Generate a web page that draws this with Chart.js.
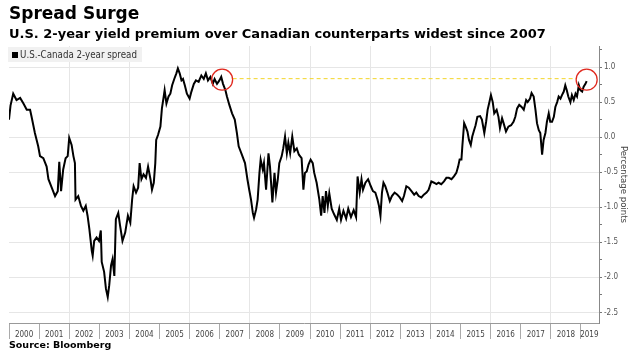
<!DOCTYPE html>
<html>
<head>
<meta charset="utf-8">
<script src="https://cdn.jsdelivr.net/npm/chart.js@4.4.1/dist/chart.umd.min.js"></script>
<style>
  html, body { margin: 0; padding: 0; background: #fff; }
  #wrap { position: relative; width: 633px; height: 359px; overflow: hidden; }
  #mainChart { position: absolute; left: 0; top: 0; }
  .head { position: absolute; left: 9px; font-family: "DejaVu Sans", sans-serif; font-weight: bold; color: #000; white-space: nowrap; }
  #title { top: 3px; font-size: 17px; }
  #subtitle { top: 26px; font-size: 13px; }
  #source { top: 339px; font-size: 9.5px; }
  #legend { position: absolute; left: 8px; top: 47px; height: 15px; line-height: 15px; padding: 0 5px 0 4px;
            background: #f1f1f1; color: #333; font-family: "Liberation Sans Narrow", "DejaVu Sans Condensed", sans-serif; font-size: 9.7px; }
  #legend i { display: inline-block; width: 6px; height: 6px; background: #000; margin-right: 2px; vertical-align: 0px; }
</style>
</head>
<body>
<div id="wrap">
  <canvas id="mainChart" width="633" height="359"></canvas>
  <div class="head" id="title">Spread Surge</div>
  <div class="head" id="subtitle">U.S. 2-year yield premium over Canadian counterparts widest since 2007</div>
  <div id="legend"><i></i>U.S.-Canada 2-year spread</div>
  <div class="head" id="source">Source: Bloomberg</div>
</div>
<script>
// Datos (años decimales / puntos porcentuales)
const dates = [
    2000.00, 2000.05, 2000.14, 2000.25, 2000.37, 2000.48, 2000.59, 2000.70, 2000.75, 2000.86, 2000.97,
    2001.03, 2001.14, 2001.25, 2001.31, 2001.42, 2001.53, 2001.62, 2001.67, 2001.73, 2001.80, 2001.88, 2001.95,
    2002.00, 2002.08, 2002.14, 2002.19, 2002.21, 2002.30, 2002.39, 2002.47, 2002.55, 2002.61, 2002.67, 2002.75, 2002.78, 2002.83, 2002.91, 2002.99,
    2003.05, 2003.08, 2003.16, 2003.22, 2003.28, 2003.33, 2003.39, 2003.44, 2003.50, 2003.55, 2003.63, 2003.69, 2003.77, 2003.86, 2003.95,
    2004.03, 2004.09, 2004.14, 2004.22, 2004.29, 2004.34, 2004.40, 2004.47, 2004.55, 2004.62, 2004.70, 2004.75, 2004.81, 2004.86, 2004.89, 2004.95,
    2005.03, 2005.08, 2005.14, 2005.17, 2005.23, 2005.30, 2005.36, 2005.42, 2005.49, 2005.56, 2005.61, 2005.67, 2005.73, 2005.78, 2005.84, 2005.91,
    2006.00, 2006.06, 2006.14, 2006.21, 2006.30, 2006.39, 2006.47, 2006.54, 2006.61, 2006.69, 2006.77, 2006.83, 2006.91, 2006.99,
    2007.05, 2007.11, 2007.19, 2007.24, 2007.32, 2007.41, 2007.50, 2007.57, 2007.63, 2007.72, 2007.84, 2007.92, 2007.98,
    2008.04, 2008.10, 2008.14, 2008.21, 2008.26, 2008.32, 2008.36, 2008.43, 2008.47, 2008.54, 2008.62, 2008.67, 2008.75, 2008.82, 2008.87, 2008.93, 2008.98,
    2009.06, 2009.11, 2009.17, 2009.23, 2009.28, 2009.34, 2009.41, 2009.48, 2009.56, 2009.63, 2009.72, 2009.78, 2009.83, 2009.89, 2009.95,
    2010.02, 2010.09, 2010.14, 2010.22, 2010.31, 2010.37, 2010.42, 2010.48, 2010.53, 2010.59, 2010.64, 2010.72, 2010.80, 2010.89, 2010.97,
    2011.03, 2011.11, 2011.20, 2011.27, 2011.36, 2011.45, 2011.53, 2011.58, 2011.65, 2011.71, 2011.76, 2011.84, 2011.93,
    2012.02, 2012.09, 2012.17, 2012.24, 2012.29, 2012.34, 2012.39, 2012.44, 2012.50, 2012.57, 2012.65, 2012.72, 2012.81, 2012.90, 2012.98,
    2013.06, 2013.12, 2013.20, 2013.28, 2013.37, 2013.46, 2013.53, 2013.61, 2013.70, 2013.78, 2013.87, 2013.94,
    2014.03, 2014.12, 2014.20, 2014.27, 2014.36, 2014.45, 2014.53, 2014.61, 2014.70, 2014.78, 2014.86, 2014.92, 2014.97,
    2015.03, 2015.06, 2015.12, 2015.17, 2015.23, 2015.28, 2015.34, 2015.39, 2015.45, 2015.50, 2015.56, 2015.65, 2015.71, 2015.79, 2015.85, 2015.90, 2015.96,
    2016.01, 2016.07, 2016.12, 2016.20, 2016.26, 2016.31, 2016.38, 2016.43, 2016.51, 2016.59, 2016.68, 2016.76, 2016.82, 2016.88, 2016.95,
    2017.03, 2017.10, 2017.18, 2017.23, 2017.31, 2017.36, 2017.43, 2017.49, 2017.54, 2017.60, 2017.65, 2017.71, 2017.76, 2017.82, 2017.87, 2017.93, 2017.98,
    2018.04, 2018.10, 2018.15, 2018.21, 2018.26, 2018.32, 2018.37, 2018.43, 2018.48, 2018.53, 2018.58, 2018.65, 2018.70, 2018.76, 2018.82, 2018.87, 2018.93, 2018.98,
    2019.04, 2019.09, 2019.15, 2019.19
];
const spread = [
    0.25, 0.45, 0.62, 0.53, 0.56, 0.48, 0.39, 0.39, 0.29, 0.06, -0.13,
    -0.27, -0.30, -0.42, -0.60, -0.72, -0.84, -0.77, -0.35, -0.77, -0.46, -0.30, -0.27,
    -0.01, -0.11, -0.27, -0.37, -0.89, -0.84, -0.98, -1.05, -0.98, -1.12, -1.31, -1.62, -1.69, -1.48, -1.43, -1.48,
    -1.33, -1.78, -1.92, -2.16, -2.28, -2.11, -1.83, -1.74, -1.98, -1.17, -1.08, -1.26, -1.48, -1.36, -1.12,
    -1.22, -0.89, -0.70, -0.79, -0.72, -0.37, -0.60, -0.53, -0.58, -0.42, -0.60, -0.75, -0.65, -0.37, -0.04, 0.03,
    0.15, 0.41, 0.58, 0.67, 0.48, 0.58, 0.62, 0.74, 0.83, 0.91, 0.98, 0.91, 0.81, 0.83, 0.74, 0.62,
    0.55, 0.65, 0.76, 0.81, 0.79, 0.88, 0.83, 0.91, 0.81, 0.86, 0.76, 0.83, 0.76, 0.81,
    0.86, 0.76, 0.67, 0.58, 0.46, 0.34, 0.25, 0.06, -0.13, -0.23, -0.37, -0.60, -0.75,
    -0.89, -1.08, -1.15, -1.03, -0.89, -0.51, -0.32, -0.46, -0.37, -0.75, -0.23, -0.42, -0.93, -0.51, -0.79, -0.60, -0.37,
    -0.27, -0.16, 0.01, -0.23, -0.08, -0.23, 0.01, -0.20, -0.16, -0.25, -0.30, -0.75, -0.51, -0.49, -0.39,
    -0.32, -0.37, -0.51, -0.65, -0.89, -1.12, -0.84, -1.08, -0.77, -0.98, -0.80, -1.02, -1.10, -1.18, -1.02,
    -1.18, -1.05, -1.16, -1.02, -1.14, -1.04, -1.14, -0.56, -0.79, -0.60, -0.75, -0.65, -0.60,
    -0.70, -0.77, -0.79, -0.89, -0.98, -1.12, -0.79, -0.65, -0.70, -0.79, -0.91, -0.84, -0.79, -0.82, -0.86,
    -0.91, -0.84, -0.70, -0.72, -0.77, -0.82, -0.79, -0.84, -0.86, -0.82, -0.79, -0.75,
    -0.63, -0.65, -0.67, -0.65, -0.67, -0.63, -0.58, -0.58, -0.60, -0.56, -0.51, -0.42, -0.32,
    -0.32, -0.13, 0.20, 0.15, 0.08, -0.04, -0.11, 0.01, 0.10, 0.17, 0.29, 0.30, 0.25, 0.06, 0.22, 0.39, 0.50,
    0.60, 0.50, 0.34, 0.39, 0.29, 0.13, 0.27, 0.20, 0.08, 0.15, 0.17, 0.22, 0.29, 0.41, 0.46,
    0.43, 0.39, 0.53, 0.50, 0.55, 0.63, 0.58, 0.39, 0.20, 0.10, 0.06, -0.25, -0.04, 0.06, 0.22, 0.34, 0.22,
    0.22, 0.29, 0.43, 0.50, 0.58, 0.55, 0.60, 0.65, 0.74, 0.67, 0.58, 0.50, 0.60, 0.53, 0.62, 0.58, 0.74, 0.67,
    0.65, 0.72, 0.76, 0.80
];

// Etiquetas del eje X (años) y marcas del eje Y
const years = [2000, 2001, 2002, 2003, 2004, 2005, 2006, 2007, 2008, 2009,
               2010, 2011, 2012, 2013, 2014, 2015, 2016, 2017, 2018, 2019];
const yTicks = [-2.5, -2.25, -2, -1.75, -1.5, -1.25, -1, -0.75, -0.5, -0.25, 0, 0.25, 0.5, 0.75, 1, 1.25];

// Anotación: máximos de 2007 y de hoy
const peakDates = [2007.08, 2019.19];
const peakLevel = 0.82;

const smallFont = { family: "'Liberation Sans Narrow', 'DejaVu Sans Condensed', sans-serif", size: 8 };
const isMajor = v => Math.abs(v * 2 - Math.round(v * 2)) < 1e-6;

const highlightPlugin = {
    id: "highlight",
    afterDatasetsDraw(chart) {
        const { ctx, scales: { x, y } } = chart;
        const r = 10.5;
        const py = y.getPixelForValue(peakLevel);
        const px = peakDates.map(d => x.getPixelForValue(d));
        ctx.save();
        ctx.strokeStyle = "#f3d526";
        ctx.lineWidth = 1;
        ctx.setLineDash([4, 3]);
        ctx.beginPath();
        ctx.moveTo(px[0] + r, py - 1);
        ctx.lineTo(px[1] - r, py - 1);
        ctx.stroke();
        ctx.setLineDash([]);
        ctx.strokeStyle = "#e0281e";
        ctx.lineWidth = 1.3;
        px.forEach(cx => {
            ctx.beginPath();
            ctx.arc(cx, py, r, 0, Math.PI * 2);
            ctx.stroke();
        });
        ctx.restore();
    }
};

const ctx = document.getElementById("mainChart").getContext("2d");
new Chart(ctx, {
    type: "line",
    data: {
        datasets: [{
            label: "U.S.-Canada 2-year spread",
            data: dates.map((d, i) => ({ x: d, y: spread[i] })),
            borderColor: "#000",
            borderWidth: 2,
            pointRadius: 0,
            tension: 0,
            fill: false
        }]
    },
    options: {
        responsive: false,
        animation: false,
        devicePixelRatio: 1,
        layout: { padding: { left: 9, top: 46, right: 0, bottom: 16 } },
        plugins: { legend: { display: false }, tooltip: { enabled: false } },
        scales: {
            x: {
                type: "linear",
                min: 2000,
                max: 2019.6,
                afterBuildTicks: s => {
                    const t = [];
                    years.forEach(yr => {
                        t.push({ value: yr });
                        t.push({ value: yr === 2019 ? 2019.28 : yr + 0.5 });
                    });
                    s.ticks = t;
                },
                afterFit: s => { s.height = 20; },
                ticks: {
                    autoSkip: false,
                    maxRotation: 0,
                    padding: -9,
                    color: "#444",
                    font: smallFont,
                    callback: v => Number.isInteger(v) ? "" : String(Math.floor(v))
                },
                grid: {
                    tickLength: 16,
                    color: c => (c.tick && Number.isInteger(c.tick.value) && c.tick.value % 2 === 0 && c.tick.value > 2000) ? "#e6e6e6" : "rgba(0,0,0,0)",
                    tickColor: c => (c.tick && Number.isInteger(c.tick.value)) ? "#aaa" : "rgba(0,0,0,0)"
                },
                border: { color: "#999" }
            },
            y: {
                position: "right",
                min: -2.65,
                max: 1.3,
                afterBuildTicks: s => { s.ticks = yTicks.map(v => ({ value: v })); },
                afterFit: s => { s.width = 34; },
                ticks: {
                    autoSkip: false,
                    padding: 2,
                    color: "#555",
                    font: smallFont,
                    callback: v => isMajor(v) ? v.toFixed(1) : ""
                },
                grid: {
                    tickLength: 3,
                    color: c => (c.tick && isMajor(c.tick.value)) ? "#e6e6e6" : "rgba(0,0,0,0)",
                    tickColor: "#777"
                },
                border: { color: "#888" },
                title: {
                    display: true,
                    text: "Percentage points",
                    color: "#444",
                    font: { family: "'Liberation Sans Narrow', 'DejaVu Sans Condensed', sans-serif", size: 9.5 },
                    padding: { top: 4, bottom: 0 }
                }
            }
        }
    },
    plugins: [highlightPlugin]
});
</script>
</body>
</html>
